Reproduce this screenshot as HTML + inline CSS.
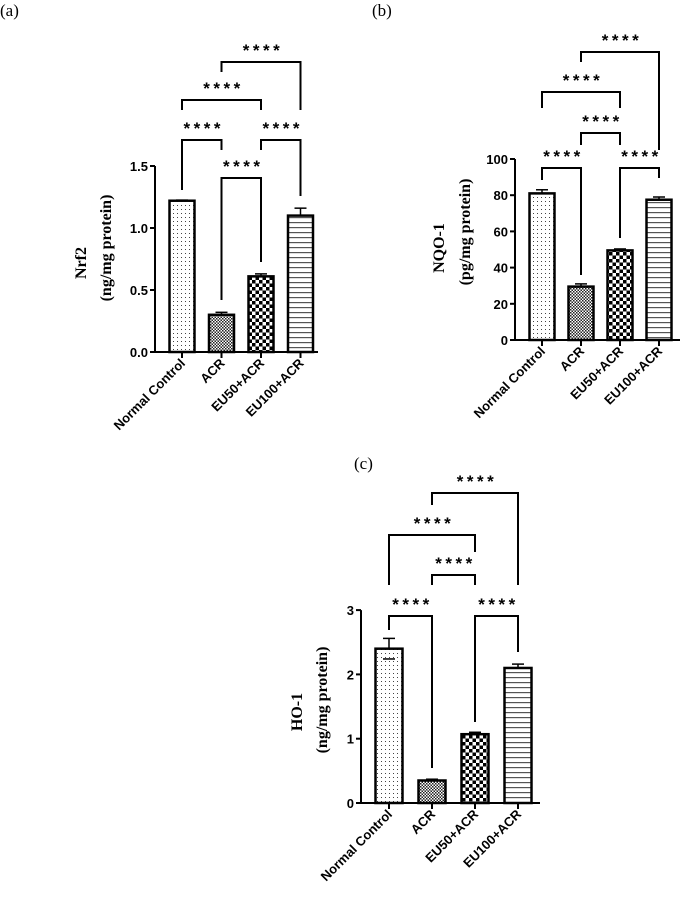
<!DOCTYPE html>
<html><head><meta charset="utf-8"><style>
body{margin:0;background:#fff}
svg{display:block}
.t{font-family:"Liberation Sans",sans-serif;font-weight:bold;font-size:13px}
.s{font-family:"Liberation Sans",sans-serif;font-weight:bold;font-size:17px;letter-spacing:3.5px}
.ti{font-family:"Liberation Serif",serif;font-weight:bold;font-size:16px}
.pl{font-family:"Liberation Serif",serif;font-size:17px}
</style></head><body>
<svg id="fig" width="685" height="900" viewBox="0 0 685 900">
<defs>
<pattern id="pDots" width="4" height="4" patternUnits="userSpaceOnUse"><rect x="1" y="1" width="1" height="1" fill="#444"/></pattern>
<pattern id="pFine" width="3" height="3" patternUnits="userSpaceOnUse"><rect width="3" height="3" fill="#fff"/><rect width="1.5" height="1.5" fill="#222"/><rect x="1.5" y="1.5" width="1.5" height="1.5" fill="#222"/></pattern>
<pattern id="pCheck" width="7" height="7" patternUnits="userSpaceOnUse"><rect width="7" height="7" fill="#fff"/><rect width="3.5" height="3.5" fill="#000"/><rect x="3.5" y="3.5" width="3.5" height="3.5" fill="#000"/></pattern>
<pattern id="pLines" width="4" height="5" patternUnits="userSpaceOnUse"><rect y="2" width="4" height="1.2" fill="#555"/></pattern>
</defs>
<text class="pl" x="0" y="16">(a)</text>
<text class="pl" x="372" y="16">(b)</text>
<text class="pl" x="354" y="469">(c)</text>
</svg>
<script>
const categories = ["Normal Control","ACR","EU50+ACR","EU100+ACR"];
const nrf2Values = [1.22, 0.30, 0.61, 1.10];
const nrf2Errors = [0.005, 0.02, 0.02, 0.06];
const nrf2Ticks = [0, 0.5, 1.0, 1.5];
const nrf2TickLabels = ["0.0","0.5","1.0","1.5"];
const nqoValues = [81, 29.5, 49.5, 77.5];
const nqoErrors = [2, 1.5, 0.8, 1.5];
const nqoTicks = [0, 20, 40, 60, 80, 100];
const nqoTickLabels = ["0","20","40","60","80","100"];
const hoValues = [2.40, 0.35, 1.07, 2.10];
const hoErrors = [0.16, 0.02, 0.03, 0.06];
const hoTicks = [0, 1, 2, 3];
const hoTickLabels = ["0","1","2","3"];
const sigLabel = "****";

const svg = document.getElementById('fig');
const NS = 'http://www.w3.org/2000/svg';
function mk(tag, attrs, parent){const e=document.createElementNS(NS,tag);for(const k in attrs)e.setAttribute(k,attrs[k]);(parent||svg).appendChild(e);return e;}
const fills = ["url(#pDots)","url(#pFine)","url(#pCheck)","url(#pLines)"];

function panel(cfg){
  const g = mk('g',{});
  
  
  const y = v => cfg.y0 - v*cfg.scale;
  const x = i => cfg.c0 + cfg.step*i;
  const ymax = cfg.ticks[cfg.ticks.length-1];
  const ya = mk('line',{x1:cfg.x0,y1:y(ymax),x2:cfg.x0,y2:cfg.y0,stroke:'#000','stroke-width':2},g);
  
  
  const xa = mk('line',{x1:cfg.x0,y1:cfg.y0,x2:cfg.xEnd,y2:cfg.y0,stroke:'#000','stroke-width':2},g);
  
  
  cfg.ticks.forEach((t,k)=>{
    mk('line',{x1:cfg.x0-5,y1:y(t),x2:cfg.x0,y2:y(t),stroke:'#000','stroke-width':2},g);
    const tl = mk('text',{x:cfg.x0-7,y:y(t)+5,'text-anchor':'end',class:'t'},g);
    tl.textContent = cfg.tickLabels[k];
    
    
  });
  cfg.values.forEach((v,i)=>{
    const cx = x(i), w = cfg.bw;
    const b = mk('rect',{x:cx-w/2,y:y(v),width:w,height:cfg.y0-y(v),fill:fills[i],stroke:'#000','stroke-width':2.5},g);
    
    
    const e = cfg.errors[i];
    mk('line',{x1:cx,y1:y(v),x2:cx,y2:y(v+e),stroke:'#000','stroke-width':1.5},g);
    mk('line',{x1:cx-6,y1:y(v+e),x2:cx+6,y2:y(v+e),stroke:'#000','stroke-width':1.5},g);
    if(i===0 && e*cfg.scale>5) mk('line',{x1:cx-6,y1:y(v-e),x2:cx+6,y2:y(v-e),stroke:'#000','stroke-width':1.5},g);
    mk('line',{x1:cx,y1:cfg.y0,x2:cx,y2:cfg.y0+6,stroke:'#000','stroke-width':2},g);
    const lx = cx+4, ly = cfg.y0+12;
    const xl = mk('text',{x:lx,y:ly,'text-anchor':'end',class:'t',transform:`rotate(-45 ${lx} ${ly})`},g);
    xl.textContent = categories[i];
    
    
  });
  const tt = mk('text',{x:cfg.tx,y:cfg.ty,'text-anchor':'middle',class:'ti',transform:`rotate(-90 ${cfg.tx} ${cfg.ty})`},g);
  tt.textContent = cfg.title;
  
  
  const ts = mk('text',{x:cfg.ux,y:cfg.uy,'text-anchor':'middle',class:'ti',transform:`rotate(-90 ${cfg.ux} ${cfg.uy})`},g);
  ts.textContent = cfg.unit;
  
  
  cfg.brackets.forEach(br=>{
    const [i,j,by,l1,l2] = br;
    const p = mk('path',{d:`M${x(i)} ${l1} V${by} H${x(j)} V${l2}`,fill:'none',stroke:'#000','stroke-width':2},g);
    
    
    const s = mk('text',{x:(x(i)+x(j))/2+2,y:by-6,'text-anchor':'middle',class:'s'},g);
    s.textContent = sigLabel;
    
    
  });
}

panel({name:'nrf2-chart',x0:155,y0:352,scale:124,c0:182,step:39.5,bw:25,xEnd:318,values:nrf2Values,errors:nrf2Errors,ticks:nrf2Ticks,tickLabels:nrf2TickLabels,title:'Nrf2',unit:'(ng/mg protein)',tx:86,ty:263,ux:111,uy:248,
  brackets:[[0,1,140,190,150],[2,3,140,150,196],[1,2,178,300,262],[0,2,100,110,110],[1,3,62,72,110]]});
panel({name:'nqo1-chart',x0:515,y0:340,scale:1.81,c0:542,step:39,bw:25,xEnd:680,values:nqoValues,errors:nqoErrors,ticks:nqoTicks,tickLabels:nqoTickLabels,title:'NQO-1',unit:'(pg/mg protein)',tx:444,ty:248,ux:470,uy:232,
  brackets:[[0,1,168,180,275],[2,3,168,238,178],[1,2,133,145,145],[0,2,92,108,108],[1,3,52,62,150]]});
panel({name:'ho1-chart',x0:361,y0:803,scale:64.3,c0:389,step:43,bw:27,xEnd:540,values:hoValues,errors:hoErrors,ticks:hoTicks,tickLabels:hoTickLabels,title:'HO-1',unit:'(ng/mg protein)',tx:302,ty:712,ux:327,uy:700,
  brackets:[[0,1,616,630,768],[2,3,616,722,652],[1,2,575,585,585],[0,2,535,585,552],[1,3,493,505,585]]});
</script>
</body></html>
